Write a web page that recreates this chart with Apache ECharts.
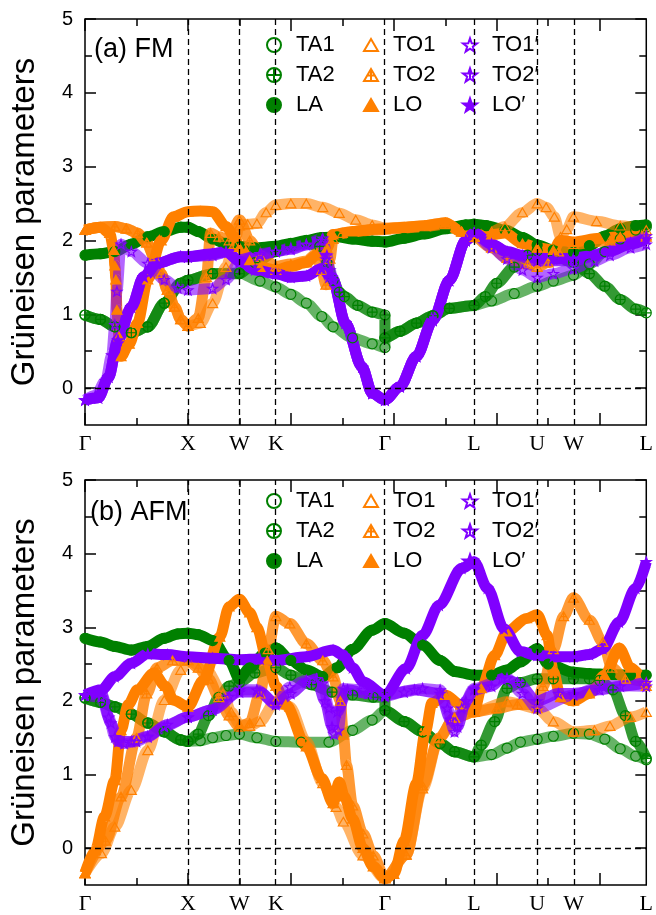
<!DOCTYPE html>
<html>
<head>
<meta charset="utf-8">
<script src="https://cdn.jsdelivr.net/npm/echarts@6/dist/echarts.min.js"></script>
<style>
  html, body { margin: 0; padding: 0; background: #fff; }
  #chart { width: 656px; height: 915px; }
</style>
</head>
<body>
<div id="chart"></div>
<script>
// high-symmetry path (distance in 2pi/a units) and its labels
const kPos = [0, 1, 1.5, 1.854, 2.914, 3.78, 4.393, 4.746, 5.453]
const kLabels = ['Γ', 'X', 'W', 'K', 'Γ', 'L', 'U', 'W', 'L']
const xMajor = [0, 1, 2, 3, 4, 5]
const xMinor = [0.5, 1.5, 2.5, 3.5, 4.5]
const yMajor = [0, 1, 2, 3, 4, 5]
const yMinor = [0.5, 1.5, 2.5, 3.5, 4.5]

// (a) FM  -- [k, gamma]
const fmTA1 = [[0,0.99],[0.15,0.93],[0.29,0.83],[0.45,0.75],[0.61,0.83],[0.77,1.15],[0.93,1.42],[1.0,1.46],[1.24,1.55],[1.5,1.56],[1.7,1.45],[1.854,1.37],[2.0,1.27],[2.15,1.15],[2.3,0.97],[2.41,0.83],[2.6,0.68],[2.79,0.6],[2.914,0.55],[2.914,0.68],[3.06,0.77],[3.22,0.88],[3.38,0.98],[3.54,1.08],[3.78,1.12],[3.95,1.18],[4.17,1.28],[4.393,1.38],[4.55,1.45],[4.746,1.53],[4.9,1.68],[5.05,1.85],[5.2,2.02],[5.35,2.14],[5.453,2.18]]
const fmTA2 = [[0,0.99],[0.15,0.93],[0.29,0.83],[0.45,0.75],[0.61,0.83],[0.77,1.15],[0.93,1.42],[1.0,1.46],[1.24,1.55],[1.5,1.55],[1.65,1.7],[1.854,1.85],[2.0,1.92],[2.15,1.97],[2.28,1.92],[2.35,1.7],[2.41,1.46],[2.47,1.3],[2.52,1.24],[2.65,1.12],[2.79,1.03],[2.914,0.99],[2.914,0.68],[3.06,0.77],[3.22,0.88],[3.38,0.98],[3.54,1.08],[3.78,1.12],[3.89,1.24],[4.0,1.42],[4.17,1.64],[4.3,1.8],[4.393,1.86],[4.55,1.8],[4.746,1.7],[4.9,1.55],[5.05,1.38],[5.2,1.2],[5.35,1.07],[5.453,1.02]]
const fmLA = [[0,1.8],[0.15,1.82],[0.29,1.85],[0.45,1.95],[0.61,2.05],[0.77,2.12],[0.93,2.18],[1.0,2.18],[1.1,2.12],[1.24,2.02],[1.37,1.96],[1.5,1.92],[1.65,1.9],[1.854,1.92],[2.0,1.96],[2.15,2.0],[2.3,2.04],[2.45,2.05],[2.6,2.02],[2.79,1.99],[2.914,1.98],[3.1,2.03],[3.3,2.09],[3.5,2.16],[3.7,2.21],[3.78,2.22],[3.9,2.2],[4.08,2.14],[4.25,2.04],[4.393,1.94],[4.55,1.87],[4.746,1.84],[4.9,1.93],[5.05,2.06],[5.2,2.16],[5.35,2.2],[5.453,2.21]]
const fmTO1 = [[0,2.14],[0.15,2.18],[0.29,2.19],[0.4,2.16],[0.51,2.1],[0.6,1.97],[0.67,1.78],[0.74,1.55],[0.8,1.33],[0.87,1.1],[0.93,0.93],[1.0,0.84],[1.12,0.88],[1.24,1.15],[1.37,1.64],[1.45,1.95],[1.5,2.2],[1.58,2.22],[1.67,2.23],[1.76,2.38],[1.854,2.48],[2.0,2.5],[2.15,2.5],[2.31,2.45],[2.47,2.37],[2.63,2.28],[2.79,2.21],[2.914,2.17],[3.1,2.18],[3.3,2.2],[3.5,2.24],[3.66,2.12],[3.78,2.05],[3.95,2.12],[4.08,2.19],[4.25,2.38],[4.393,2.5],[4.48,2.45],[4.56,2.32],[4.62,2.05],[4.68,2.15],[4.746,2.32],[4.97,2.26],[5.2,2.2],[5.453,2.14]]
const fmTO2 = [[0,2.14],[0.15,2.18],[0.29,2.19],[0.4,2.16],[0.51,2.1],[0.6,1.97],[0.67,1.78],[0.74,1.55],[0.8,1.33],[0.87,1.1],[0.93,0.93],[1.0,0.84],[1.1,0.95],[1.18,1.5],[1.22,2.1],[1.3,2.05],[1.4,2.0],[1.5,2.28],[1.6,2.0],[1.7,1.8],[1.854,1.65],[2.0,1.68],[2.15,1.72],[2.25,1.82],[2.3,1.6],[2.34,1.4],[2.38,1.75],[2.41,2.02],[2.5,2.1],[2.7,2.13],[2.914,2.15],[3.1,2.17],[3.3,2.19],[3.5,2.22],[3.66,2.12],[3.78,2.05],[3.95,1.9],[4.1,1.76],[4.3,1.68],[4.393,1.64],[4.5,1.7],[4.6,1.85],[4.746,1.95],[5.1,2.0],[5.453,2.05]]
const fmLO = [[0,2.14],[0.15,2.18],[0.24,2.1],[0.28,1.87],[0.29,1.66],[0.3,1.47],[0.31,1.06],[0.33,0.7],[0.35,0.43],[0.43,0.6],[0.51,0.88],[0.61,1.47],[0.74,2.0],[0.86,2.32],[1.0,2.39],[1.12,2.4],[1.24,2.39],[1.37,2.19],[1.45,2.05],[1.5,1.91],[1.6,1.73],[1.7,1.64],[1.854,1.6],[2.0,1.65],[2.15,1.7],[2.25,1.8],[2.35,1.9],[2.41,2.08],[2.6,2.12],[2.79,2.15],[2.914,2.16],[3.1,2.18],[3.3,2.2],[3.5,2.24],[3.66,2.12],[3.78,2.05],[3.95,2.08],[4.08,2.1],[4.25,1.96],[4.393,1.9],[4.55,1.87],[4.62,2.0],[4.746,1.98],[5.0,2.03],[5.2,2.05],[5.453,2.07]]
const fmTO1p = [[0,-0.16],[0.1,-0.1],[0.2,0.1],[0.26,0.45],[0.29,0.86],[0.31,1.31],[0.35,1.95],[0.45,1.85],[0.61,1.69],[0.77,1.47],[0.9,1.36],[1.0,1.33],[1.24,1.35],[1.37,1.47],[1.5,1.7],[1.7,1.82],[1.854,1.85],[2.0,1.9],[2.15,1.95],[2.31,2.03],[2.35,1.8],[2.38,1.6],[2.41,1.46],[2.53,0.88],[2.69,0.29],[2.79,-0.07],[2.914,-0.16],[3.06,0.02],[3.22,0.43],[3.38,0.92],[3.54,1.46],[3.7,2.0],[3.78,2.1],[3.95,1.9],[4.1,1.75],[4.25,1.6],[4.393,1.5],[4.55,1.55],[4.746,1.62],[4.95,1.72],[5.1,1.8],[5.3,1.9],[5.453,1.95]]
const fmTO2p = [[0,-0.16],[0.13,-0.13],[0.23,0.15],[0.32,0.65],[0.45,1.1],[0.57,1.51],[0.7,1.69],[0.93,1.78],[1.0,1.78],[1.24,1.8],[1.37,1.84],[1.5,1.74],[1.7,1.8],[1.854,1.85],[2.0,1.88],[2.15,1.94],[2.3,2.0],[2.34,1.75],[2.37,1.5],[2.41,1.46],[2.53,0.88],[2.69,0.29],[2.79,-0.07],[2.914,-0.16],[3.06,0.02],[3.22,0.43],[3.38,0.92],[3.54,1.46],[3.7,2.0],[3.78,2.1],[3.95,1.95],[4.1,1.84],[4.393,1.72],[4.746,1.73],[5.1,1.85],[5.3,1.97],[5.453,2.06]]
const fmLOp = [[0,-0.16],[0.13,-0.13],[0.23,0.15],[0.32,0.65],[0.45,1.1],[0.57,1.51],[0.7,1.69],[0.93,1.78],[1.0,1.78],[1.24,1.82],[1.37,1.85],[1.5,1.72],[1.65,1.6],[1.854,1.55],[2.0,1.5],[2.15,1.52],[2.3,1.62],[2.4,1.5],[2.53,0.88],[2.69,0.29],[2.79,-0.07],[2.914,-0.16],[3.06,0.02],[3.22,0.43],[3.38,0.92],[3.54,1.46],[3.7,2.0],[3.78,2.1],[3.95,1.95],[4.1,1.85],[4.25,1.8],[4.393,1.76],[4.55,1.75],[4.746,1.76],[4.95,1.8],[5.1,1.86],[5.3,1.95],[5.453,2.02]]

// (b) AFM
const afmTA1 = [[0,2.04],[0.15,1.98],[0.29,1.92],[0.45,1.82],[0.61,1.7],[0.77,1.58],[0.93,1.47],[1.0,1.45],[1.12,1.46],[1.24,1.5],[1.37,1.53],[1.5,1.55],[1.67,1.5],[1.854,1.45],[2.1,1.44],[2.37,1.44],[2.6,1.6],[2.79,1.74],[2.914,1.87],[3.1,1.72],[3.28,1.58],[3.45,1.42],[3.59,1.31],[3.78,1.24],[3.95,1.27],[4.1,1.36],[4.23,1.44],[4.393,1.48],[4.55,1.52],[4.746,1.56],[4.9,1.55],[5.05,1.48],[5.2,1.35],[5.35,1.25],[5.453,1.2]]
const afmTA2 = [[0,2.04],[0.15,1.98],[0.29,1.92],[0.45,1.82],[0.61,1.7],[0.77,1.58],[0.93,1.47],[1.0,1.45],[1.1,1.55],[1.2,1.8],[1.3,2.05],[1.4,2.2],[1.5,2.25],[1.65,2.38],[1.854,2.45],[2.0,2.35],[2.2,2.22],[2.4,2.12],[2.6,2.08],[2.8,2.05],[2.914,2.05],[2.914,1.87],[3.1,1.72],[3.28,1.58],[3.45,1.42],[3.59,1.31],[3.78,1.24],[3.85,1.4],[3.98,1.72],[4.1,2.17],[4.23,2.25],[4.393,2.3],[4.55,2.3],[4.746,2.3],[4.9,2.3],[5.0,2.28],[5.13,2.15],[5.25,1.8],[5.35,1.45],[5.453,1.22]]
const afmLA = [[0,2.85],[0.15,2.8],[0.29,2.74],[0.45,2.69],[0.61,2.74],[0.77,2.85],[0.9,2.91],[1.0,2.92],[1.1,2.9],[1.24,2.82],[1.4,2.55],[1.5,2.3],[1.6,2.45],[1.75,2.65],[1.854,2.72],[2.0,2.55],[2.15,2.42],[2.31,2.33],[2.45,2.45],[2.6,2.7],[2.79,2.96],[2.914,3.05],[3.1,2.92],[3.28,2.76],[3.45,2.55],[3.59,2.4],[3.78,2.35],[3.95,2.35],[4.1,2.42],[4.23,2.53],[4.393,2.71],[4.5,2.5],[4.746,2.39],[4.9,2.37],[5.1,2.36],[5.3,2.35],[5.453,2.35]]
const afmTO1 = [[0,-0.34],[0.16,-0.07],[0.29,0.29],[0.45,0.79],[0.61,1.33],[0.77,2.01],[0.93,2.42],[1.0,2.55],[1.18,2.42],[1.34,2.1],[1.42,1.85],[1.5,1.68],[1.6,1.66],[1.7,1.72],[1.854,2.0],[1.99,1.92],[2.15,1.45],[2.31,0.88],[2.44,0.56],[2.51,0.36],[2.7,-0.1],[2.914,-0.41],[3.12,-0.09],[3.28,0.81],[3.44,1.49],[3.59,1.77],[3.78,1.85],[4.1,1.99],[4.393,1.9],[4.55,1.72],[4.746,1.58],[4.95,1.6],[5.1,1.66],[5.3,1.78],[5.453,1.85]]
const afmTO2 = [[0,-0.34],[0.2,0.1],[0.35,0.7],[0.5,1.5],[0.6,2.1],[0.7,2.45],[0.85,2.55],[1.0,2.55],[1.1,2.45],[1.2,2.3],[1.3,2.05],[1.4,1.8],[1.5,1.65],[1.6,1.7],[1.7,2.1],[1.78,2.7],[1.854,3.15],[1.99,3.05],[2.15,2.78],[2.31,2.55],[2.41,2.33],[2.48,2.0],[2.51,1.54],[2.54,1.13],[2.6,0.58],[2.7,0.2],[2.8,-0.1],[2.914,-0.41],[3.12,-0.09],[3.28,0.85],[3.44,1.5],[3.59,1.77],[3.78,1.85],[4.0,1.9],[4.2,1.95],[4.393,1.95],[4.45,2.2],[4.55,2.7],[4.65,3.15],[4.746,3.4],[4.9,3.1],[5.03,2.8],[5.12,2.45],[5.25,2.3],[5.453,2.25]]
const afmLO = [[0,-0.34],[0.1,-0.03],[0.19,0.43],[0.29,0.92],[0.35,1.6],[0.42,1.95],[0.51,2.15],[0.67,2.38],[0.78,2.2],[0.86,2.01],[1.0,1.92],[1.15,2.28],[1.31,2.87],[1.4,3.28],[1.5,3.38],[1.6,3.2],[1.67,3.0],[1.77,2.55],[1.854,2.2],[1.95,1.95],[2.15,1.38],[2.3,0.95],[2.41,0.61],[2.47,0.9],[2.52,0.7],[2.6,0.4],[2.7,0.0],[2.8,-0.25],[2.914,-0.41],[3.0,-0.35],[3.1,0.1],[3.22,0.88],[3.31,1.6],[3.37,1.97],[3.5,2.08],[3.65,1.95],[3.78,1.85],[3.85,2.17],[3.98,2.62],[4.1,2.94],[4.29,3.12],[4.393,3.17],[4.49,2.89],[4.55,2.4],[4.62,2.05],[4.746,2.0],[4.9,2.1],[5.05,2.35],[5.19,2.72],[5.3,2.45],[5.453,2.2]]
const afmTO1p = [[0,2.08],[0.16,2.05],[0.23,1.78],[0.29,1.51],[0.38,1.42],[0.5,1.45],[0.61,1.51],[0.77,1.65],[1.0,1.78],[1.24,1.88],[1.4,2.06],[1.5,2.15],[1.67,2.15],[1.854,1.97],[1.99,2.19],[2.15,2.28],[2.31,2.24],[2.37,1.9],[2.42,1.55],[2.46,1.6],[2.51,2.17],[2.7,2.15],[2.914,2.06],[3.1,2.12],[3.28,2.17],[3.45,2.15],[3.52,1.9],[3.59,1.58],[3.66,1.9],[3.78,2.17],[4.1,2.31],[4.25,2.1],[4.393,1.9],[4.746,2.08],[5.03,2.21],[5.453,2.2]]
const afmTO2p = [[0,2.08],[0.16,2.1],[0.25,1.7],[0.32,1.45],[0.45,1.45],[0.61,1.52],[0.8,1.68],[1.0,1.78],[1.24,1.88],[1.5,2.12],[1.7,2.12],[1.854,1.95],[2.0,2.1],[2.15,2.25],[2.25,2.3],[2.33,2.0],[2.4,1.65],[2.45,1.85],[2.55,2.15],[2.75,2.1],[2.914,2.08],[3.2,2.15],[3.45,2.1],[3.55,1.75],[3.62,1.65],[3.7,2.0],[3.78,2.15],[3.95,2.2],[4.05,2.3],[4.2,2.25],[4.393,2.0],[4.6,2.1],[4.746,2.1],[5.0,2.15],[5.2,2.2],[5.453,2.25]]
const afmLOp = [[0,2.08],[0.16,2.15],[0.29,2.33],[0.45,2.51],[0.61,2.64],[0.8,2.63],[1.0,2.6],[1.24,2.58],[1.5,2.56],[1.7,2.57],[1.854,2.55],[2.15,2.6],[2.41,2.69],[2.51,2.62],[2.6,2.45],[2.7,2.26],[2.914,2.08],[3.12,2.44],[3.28,2.89],[3.44,3.3],[3.66,3.8],[3.78,3.89],[3.91,3.53],[4.07,2.98],[4.23,2.67],[4.393,2.62],[4.55,2.6],[4.746,2.6],[4.9,2.63],[5.03,2.71],[5.19,3.07],[5.35,3.53],[5.453,3.89]]

const green = '#008000'
const orange = '#ff8000'
const purple = '#8000ff'
const sans = 'Liberation Sans, Arial, sans-serif'
const serif = 'Liberation Serif, Times New Roman, serif'

const symCirclePlus = 'path://M0,-10A10,10,0,1,1,0,10A10,10,0,1,1,0,-10ZM-10,0L10,0M0,-10L0,10'
const symTriangle = 'path://M0,-10L10,7.32L-10,7.32Z'
const symTrianglePlus = 'path://M0,-10L10,7.32L-10,7.32ZM0,-10L0,7.32M-5.5,-0.5L5.5,-0.5'
const symStar = 'path://M0,-10L2.35,-3.24L9.51,-3.09L3.8,1.24L5.88,8.09L0,4L-5.88,8.09L-3.8,1.24L-9.51,-3.09L-2.35,-3.24Z'
const symStarPlus = symStar + 'M0,-10L0,4M-9.51,-3.09L9.51,-3.09'

const modes = [
  { name: 'TA1', color: green, symbol: 'circle', kind: 'open' },
  { name: 'TA2', color: green, symbol: symCirclePlus, kind: 'plus' },
  { name: 'LA', color: green, symbol: 'circle', kind: 'fill' },
  { name: 'TO1', color: orange, symbol: symTriangle, kind: 'open' },
  { name: 'TO2', color: orange, symbol: symTrianglePlus, kind: 'plus' },
  { name: 'LO', color: orange, symbol: symTriangle, kind: 'fill' },
  { name: 'TO1′', color: purple, symbol: symStar, kind: 'open' },
  { name: 'TO2′', color: purple, symbol: symStarPlus, kind: 'plus' },
  { name: 'LO′', color: purple, symbol: symStar, kind: 'fill' }
]
const panels = [
  [fmTA1, fmTA2, fmLA, fmTO1, fmTO2, fmLO, fmTO1p, fmTO2p, fmLOp],
  [afmTA1, afmTA2, afmLA, afmTO1, afmTO2, afmLO, afmTO1p, afmTO2p, afmLOp]
]

const chart = echarts.init(document.getElementById('chart'))

const grids = [
  { left: 83, top: 19, width: 571, height: 406 },
  { left: 83, top: 480, width: 571, height: 405 }
].map(g => ({ ...g, show: true, borderColor: '#000', borderWidth: 1.5, backgroundColor: 'transparent' }))

const labelFor = (v) => {
  const i = kPos.findIndex(p => Math.abs(p - v) < 1e-6)
  return i < 0 ? '' : kLabels[i]
}

const makeX = (grid, pos, major) => ({
  type: 'value', gridIndex: grid, position: pos, min: 0, max: kPos[kPos.length - 1],
  axisLine: { show: false, onZero: false },
  axisTick: { show: true, inside: true, customValues: major ? xMajor : xMinor, length: major ? 12 : 7, lineStyle: { color: '#000', width: 1.5 } },
  axisLabel: {
    show: major && pos === 'bottom', customValues: kPos, formatter: labelFor,
    showMinLabel: true, showMaxLabel: true, hideOverlap: false,
    margin: 8, fontFamily: serif, fontSize: 22, color: '#000'
  },
  splitLine: { show: false }
})

const makeY = (grid, pos, major) => ({
  type: 'value', gridIndex: grid, position: pos, min: -0.5, max: 5,
  axisLine: { show: false, onZero: false },
  axisTick: { show: true, inside: true, customValues: major ? yMajor : yMinor, length: major ? 11 : 7, lineStyle: { color: '#000', width: 1.5 } },
  axisLabel: { show: major && pos === 'left', customValues: yMajor, margin: 12, fontFamily: sans, fontSize: 20, color: '#000' },
  splitLine: { show: false },
  name: major && pos === 'left' ? 'Grüneisen parameters' : '',
  nameLocation: 'middle', nameGap: 44,
  nameTextStyle: { fontFamily: sans, fontSize: 33, color: '#000' }
})

const xAxes = []
const yAxes = []
for (let g = 0; g < 2; g++) {
  xAxes.push(makeX(g, 'bottom', true), makeX(g, 'bottom', false), makeX(g, 'top', true), makeX(g, 'top', false))
  yAxes.push(makeY(g, 'left', true), makeY(g, 'left', false), makeY(g, 'right', true), makeY(g, 'right', false))
}

const series = []
panels.forEach((bands, g) => {
  modes.forEach((m, i) => {
    series.push({
      name: m.name, type: 'line', xAxisIndex: g * 4, yAxisIndex: g * 4,
      data: bands[i], smooth: 0.3, smoothMonotone: 'x',
      symbol: m.symbol, symbolSize: 10, showSymbol: true, symbolKeepAspect: true,
      lineStyle: { color: m.color, width: 11, opacity: m.kind === 'fill' ? 1 : (m.kind === 'plus' ? 0.8 : 0.6) },
      itemStyle: {
        color: m.kind === 'fill' ? m.color : 'rgba(255,255,255,0)',
        borderColor: m.color, borderWidth: 1.2
      },
      emphasis: { disabled: true },
      silent: true
    })
  })
  // dashed guides at the interior high-symmetry points and at zero
  series.push({
    type: 'line', xAxisIndex: g * 4, yAxisIndex: g * 4, data: [], silent: true, z: 5,
    markLine: {
      silent: true, symbol: 'none', animation: false,
      label: { show: false },
      lineStyle: { color: '#000', type: [6, 4], width: 1.3 },
      data: kPos.slice(1, -1).map(x => ({ xAxis: x })).concat([{ yAxis: 0 }])
    }
  })
})

const legendCols = [['TA1', 'TA2', 'LA'], ['TO1', 'TO2', 'LO'], ['TO1′', 'TO2′', 'LO′']]
const legendLefts = [261, 358, 457]
const legendTops = [28, 484]
const legends = []
legendTops.forEach(top => {
  legendCols.forEach((names, c) => {
    legends.push({
      left: legendLefts[c], top: top, orient: 'vertical',
      itemWidth: 14, itemHeight: 14, itemGap: 6, selectedMode: false,
      textStyle: { fontFamily: sans, fontSize: 22, color: '#000', lineHeight: 24, padding: [0, 0, 0, 10] },
      data: names.map(n => ({ name: n, icon: modes.find(m => m.name === n).symbol }))
    })
  })
})

chart.setOption({
  animation: false,
  backgroundColor: '#fff',
  title: [
    { text: '(a) FM', left: 89, top: 31, textStyle: { fontFamily: sans, fontSize: 27, fontWeight: 'normal', color: '#000' } },
    { text: '(b) AFM', left: 85, top: 494, textStyle: { fontFamily: sans, fontSize: 27, fontWeight: 'normal', color: '#000' } }
  ],
  legend: legends,
  grid: grids,
  xAxis: xAxes,
  yAxis: yAxes,
  series: series
})
</script>
</body>
</html>
